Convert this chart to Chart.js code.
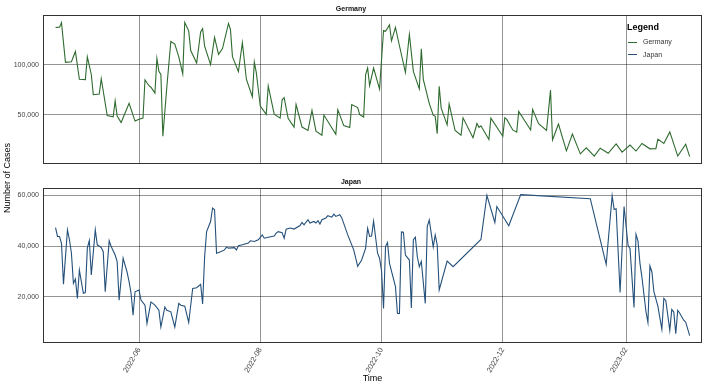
<!DOCTYPE html>
<html>
<head>
<meta charset="utf-8">
<script src="https://cdn.jsdelivr.net/npm/chart.js@4.4.1/dist/chart.umd.min.js"></script>
<style>
  body { margin: 0; width: 708px; height: 388px; background: #fff; position: relative; overflow: hidden;
         font-family: "Liberation Sans", Arial, sans-serif; }
  .panel { position: absolute; left: 0; width: 708px; }
  #germanyBox { top: 0; height: 172px; }
  #japanBox { top: 173px; height: 215px; }
  #yTitle { position: absolute; left: 7px; top: 178px; transform: translate(-50%, -50%) rotate(-90deg);
            font-size: 9px; color: #000; white-space: nowrap; }
  #legend { position: absolute; left: 627px; top: 22px; color: #333; }
  #legend .head { font-size: 9px; font-weight: bold; color: #000; margin-bottom: 6px; }
  #legend .item { font-size: 7px; height: 12.5px; line-height: 8px; white-space: nowrap; }
  #legend .key { display: inline-block; width: 9px; height: 0; border-top: 1.2px solid; vertical-align: middle; margin: 0 6px 0 1px; }
</style>
</head>
<body>
<div class="panel" id="germanyBox"><canvas id="germanyChart"></canvas></div>
<div class="panel" id="japanBox"><canvas id="japanChart"></canvas></div>
<div id="yTitle">Number of Cases</div>
<div id="legend">
  <div class="head">Legend</div>
  <div class="item"><span class="key" style="border-color:#2f6b2f"></span>Germany</div>
  <div class="item"><span class="key" style="border-color:#24507a"></span>Japan</div>
</div>
<script>
// x positions are days since 2022-06-01
const tickDays = [0, 61, 122, 183, 245];
const tickLabels = ['2022-06', '2022-08', '2022-10', '2022-12', '2023-02'];
const germanyTicks = [50000, 100000];
const japanTicks = [20000, 40000, 60000];

const germanyDays = [-42, -40, -39, -37, -34, -32, -30, -27, -26, -24, -23, -20, -19, -16, -13, -12, -11, -9, -5, -2,
  0, 2, 3, 5, 6, 8, 9, 10, 11, 12, 14, 16, 18, 20, 22, 23, 25, 26, 29, 31, 32, 33, 36, 38, 40, 42, 45, 46, 47, 50,
  52, 54, 57, 58, 59, 61, 64, 65, 68, 71, 72, 73, 75, 78, 79, 82, 85, 87, 89, 92, 93, 99, 100, 103, 106, 107, 110, 111,
  113, 114, 115, 116, 118, 121, 123, 124, 126, 127, 129, 131, 134, 136, 138, 141, 142, 143, 146, 148, 149, 150, 151,
  152, 155, 156, 159, 162, 163, 168, 170, 171, 172, 176, 177, 183, 184, 185, 188, 190, 191, 197, 198, 201, 205, 207,
  208, 211, 215, 218, 222, 225, 229, 232, 236, 240, 243, 247, 250, 253, 257, 260, 261, 264, 267, 271, 275, 277];
const germanyCases = [137000, 137300, 141800, 102300, 102900, 113100, 85400, 85100, 107700, 90200, 70100, 70700, 86000,
  49300, 48100, 64000, 48800, 42400, 61500, 43800,
  45600, 46800, 84900, 79000, 77500, 71700, 106100, 93300, 90200, 28700, 78000, 123000, 120500, 107700, 90800, 142000,
  133600, 114000, 101600, 132600, 135800, 118300, 100000, 127100, 110200, 116000, 141000, 135000, 108000, 93000,
  121800, 85500, 68000, 102500, 92000, 58800, 50500, 78800, 50700, 46800, 65000, 67200, 46500, 37800, 60300, 37900,
  34500, 54500, 33800, 29800, 49800, 30600, 55200, 39300, 37500, 60300, 57200, 50200,
  47800, 90200, 96600, 79000, 96600, 75600, 133900, 133200, 139600, 123600, 137000, 118800, 92400, 130000, 93300,
  75800, 115700, 85400, 61500, 49700, 48500, 31200, 78400,
  56700, 40100, 60800, 34400, 29700, 47100, 27300, 41400, 37600, 39200, 25400, 46800, 28700, 47100, 45500, 35000,
  32800, 53500, 35000, 55300, 41300, 34500, 74600,
  25000, 40900, 14200, 30800, 11200, 17200, 9000, 16800, 11800, 21100, 12900, 19900, 14000, 21500, 16200, 16300,
  25900, 21500, 33000, 9000, 20800, 8500];

const japanDays = [-42, -41, -40, -39, -38, -36, -35, -34, -33, -32, -31, -30, -28, -27, -26, -25, -24, -22, -21, -19,
  -18, -17, -15, -14, -12, -11, -10, -8, -6, -5, -4, -3, -2, 0, 1, 3, 4, 6, 8, 10, 11, 13, 14, 16, 18, 20, 21, 23, 25,
  27, 29, 31, 32, 33, 34, 36, 37, 38, 39, 41, 43, 44, 45, 48, 49, 50, 52, 55, 56, 58, 60, 62, 63, 65, 68, 69, 70, 72,
  73, 74, 76, 78, 81, 82, 83, 85, 86, 88, 89, 90, 91, 92, 94, 95, 97, 98, 99, 101, 102, 105, 108, 110, 112, 114, 115,
  116, 117, 118, 120, 121, 122, 123, 124, 125, 126, 129, 130, 131, 132, 133, 134, 136, 137, 138, 139, 140, 141, 142,
  144, 145, 146, 148, 149, 150, 151, 155, 158, 172, 175, 179, 180, 186, 192, 227, 235, 238, 239, 240, 242, 244, 246,
  247, 249, 250, 251, 252, 253, 255, 256, 257, 258, 259, 261, 263, 264, 265, 267, 268, 269, 270, 271, 272, 274, 275, 277];
const japanCases = [47300, 43800, 43800, 41100, 25000, 46400, 42500, 37200, 25300, 27000, 19400, 30500, 21400, 21700,
  39200, 42200, 28600, 46400, 40500, 39400,
  37800, 22000, 42100, 39800, 36500, 33900, 18700, 35200, 29700, 26000, 21400, 12800, 22000, 22700, 18700, 16700, 9500,
  18000, 16700, 14700, 8100, 16000, 14700, 14100, 8100, 17400, 16700, 16300, 9900,
  23300, 23600, 24900, 17200, 35800, 45700, 49700, 55000, 54300, 37200, 37800, 38500, 39600, 39200, 39400, 38500,
  40100, 40500, 41200, 42100, 41800, 42500, 44400, 43100, 43500, 44000, 45100, 45700, 45300,
  43100, 46700, 47100, 46700, 48100, 49300, 48400, 50400, 49100, 49700, 49100, 50000, 48700, 50400, 51100, 52000,
  51400, 52600, 51700, 52400, 51100, 44400, 38500, 32000, 34500, 39200, 47000,
  43800, 44000, 49800, 37200, 35200, 30300, 15400, 39800, 41400, 33200, 24000, 13400, 13400, 45600, 45500, 36500,
  34500, 15600, 42500, 43500, 35800, 31900, 34000,
  17400, 47800, 50300, 39700, 44400, 40500, 22700, 34100, 31900, 42600, 60000, 49300, 55600, 48000, 60300, 58700,
  32800, 59800, 54400, 54700, 21700, 55600, 40300,
  39000, 15800, 44700, 42000, 33200, 27600, 14200, 9900, 32200, 29800, 22000, 16300, 7200, 19400, 18500, 6800, 15000,
  14000, 5500, 14700, 13500, 10800, 10000, 4700];

const FONT = '"Liberation Sans", Arial, sans-serif';
const gridColor = 'rgba(0, 0, 0, 0.42)';

// рамка вокруг панели, как у ggplot
const panelBorder = {
  id: 'panelBorder',
  afterDraw(chart) {
    const { ctx, chartArea: a } = chart;
    ctx.save();
    ctx.strokeStyle = '#333';
    ctx.lineWidth = 1;
    ctx.strokeRect(Math.round(a.left) + 0.5, Math.round(a.top) + 0.5, Math.round(a.width) - 1, Math.round(a.height) - 1);
    ctx.restore();
  }
};

function makePanel(canvasId, title, days, cases, color, yTicks, yMin, yMax, showX) {
  const points = days.map((d, i) => ({ x: d, y: cases[i] }));
  return new Chart(document.getElementById(canvasId), {
    type: 'line',
    data: {
      datasets: [{
        label: title,
        data: points,
        borderColor: color,
        borderWidth: 1.1,
        pointRadius: 0,
        tension: 0,
        fill: false
      }]
    },
    options: {
      responsive: true,
      maintainAspectRatio: false,
      animation: false,
      events: [],
      layout: { padding: { left: 0, right: 6, top: 0, bottom: showX ? 0 : 2 } },
      plugins: {
        legend: { display: false },
        tooltip: { enabled: false },
        title: {
          display: true,
          text: title,
          color: '#111',
          font: { family: FONT, size: 7, weight: 'bold', lineHeight: 1.2 },
          padding: { top: 5, bottom: 1.6 }
        }
      },
      scales: {
        x: {
          type: 'linear',
          min: -48.3,
          max: 283.2,
          afterBuildTicks: s => { s.ticks = tickDays.map(v => ({ value: v })); },
          afterFit: s => { s.height = showX ? 45 : 0; },
          border: { display: false },
          grid: { color: gridColor, lineWidth: 1, drawTicks: false },
          ticks: {
            display: showX,
            autoSkip: false,
            minRotation: 60,
            maxRotation: 60,
            padding: 3,
            color: '#444',
            font: { family: FONT, size: 7.5 },
            callback: v => tickLabels[tickDays.indexOf(v)]
          },
          title: {
            display: showX,
            text: 'Time',
            color: '#000',
            font: { family: FONT, size: 9 },
            padding: { top: 0, bottom: 4 }
          }
        },
        y: {
          min: yMin,
          max: yMax,
          afterBuildTicks: s => { s.ticks = yTicks.map(v => ({ value: v })); },
          afterFit: s => { s.width = 43; },
          border: { display: false },
          grid: { color: gridColor, lineWidth: 1, drawTicks: false },
          ticks: {
            padding: 4,
            color: '#444',
            font: { family: FONT, size: 7 },
            callback: v => v.toLocaleString('en-US')
          }
        }
      }
    },
    plugins: [panelBorder]
  });
}

makePanel('germanyChart', 'Germany', germanyDays, germanyCases, '#2f6b2f', germanyTicks, 1300, 149400, false);
makePanel('japanChart', 'Japan', japanDays, japanCases, '#24507a', japanTicks, 1800, 62900, true);
</script>
</body>
</html>
